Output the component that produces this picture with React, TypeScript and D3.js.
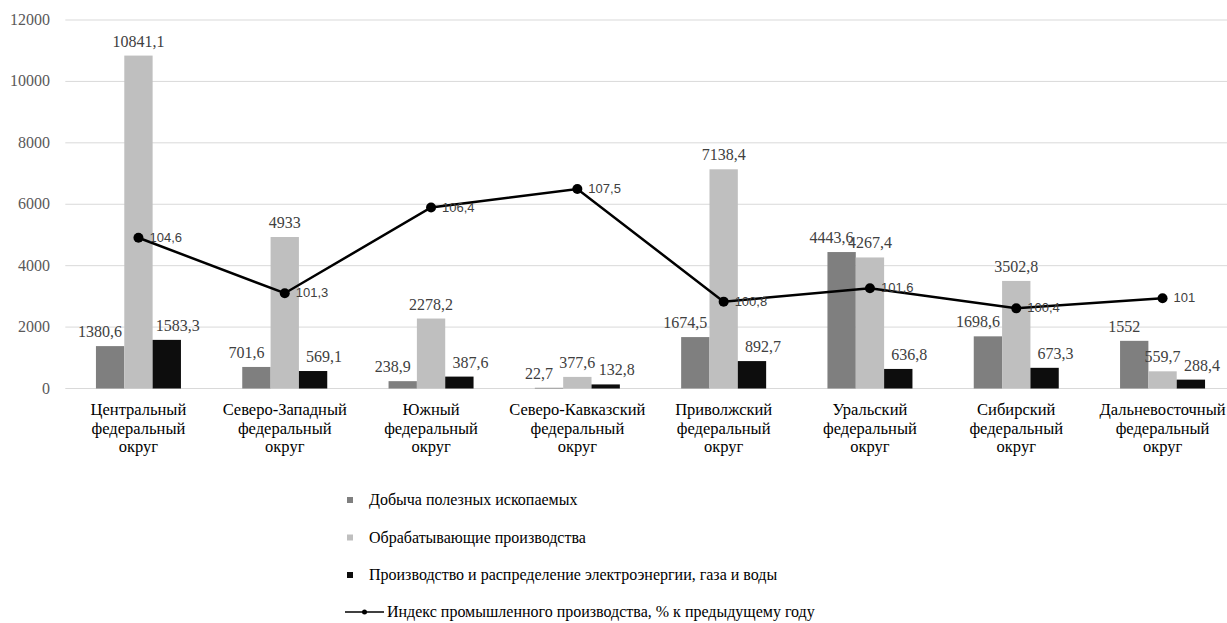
import React, { useEffect, useRef } from "react";
import * as d3 from "d3";

const categories: string[][] = [
  ["Центральный", "федеральный", "округ"],
  ["Северо-Западный", "федеральный", "округ"],
  ["Южный", "федеральный", "округ"],
  ["Северо-Кавказский", "федеральный", "округ"],
  ["Приволжский", "федеральный", "округ"],
  ["Уральский", "федеральный", "округ"],
  ["Сибирский", "федеральный", "округ"],
  ["Дальневосточный", "федеральный", "округ"],
];

const mining = [1380.6, 701.6, 238.9, 22.7, 1674.5, 4443.6, 1698.6, 1552];
const manufacturing = [10841.1, 4933, 2278.2, 377.6, 7138.4, 4267.4, 3502.8, 559.7];
const energy = [1583.3, 569.1, 387.6, 132.8, 892.7, 636.8, 673.3, 288.4];
const industrialIndex = [104.6, 101.3, 106.4, 107.5, 100.8, 101.6, 100.4, 101];

const seriesNames = [
  "Добыча полезных ископаемых",
  "Обрабатывающие производства",
  "Производство и распределение электроэнергии, газа и воды",
];
const lineName = "Индекс промышленного производства, % к предыдущему году";

const yTicks = [0, 2000, 4000, 6000, 8000, 10000, 12000];

const W = 1227;
const H = 623;
const plotLeft = 65.3;
const plotRight = 1235.7;
const plotTop = 20;
const plotBottom = 388.5;

const colors = ["#7f7f7f", "#bfbfbf", "#0d0d0d"];
const labelDx = [-10, 0, 11];

const SERIF = "Times New Roman";
const SANS = "Liberation Sans";

const fmt = (v: number) => String(v).replace(".", ",");

export default function App() {
  const ref = useRef<SVGSVGElement>(null);

  useEffect(() => {
    if (!ref.current) return;
    const svg = d3.select(ref.current);
    svg.selectAll("*").remove();

    const keys = categories.map((c) => c.join(" "));
    const x0 = d3
      .scaleBand<string>()
      .domain(keys)
      .range([plotLeft, plotRight])
      .paddingInner(0.419)
      .paddingOuter(0.2095);
    const x1 = d3.scaleBand<number>().domain([0, 1, 2]).range([0, x0.bandwidth()]).padding(0);
    const y = d3.scaleLinear().domain([0, 12000]).range([plotBottom, plotTop]);
    const y2 = d3.scaleLinear().domain([95.63, 117.56]).range([plotBottom, plotTop]);
    const cx = (i: number) => (x0(keys[i]) as number) + x0.bandwidth() / 2;
    const series = [mining, manufacturing, energy];

    svg.append("rect").attr("width", W).attr("height", H).attr("fill", "#fff");

    svg
      .append("g")
      .selectAll("line")
      .data(yTicks)
      .join("line")
      .attr("x1", plotLeft)
      .attr("x2", W)
      .attr("y1", (d) => y(d))
      .attr("y2", (d) => y(d))
      .attr("stroke", "#d9d9d9")
      .attr("stroke-width", 1);

    svg
      .append("g")
      .selectAll("text")
      .data(yTicks)
      .join("text")
      .attr("x", 50)
      .attr("y", (d) => y(d) + 5)
      .attr("text-anchor", "end")
      .attr("font-family", SERIF)
      .attr("font-size", 16)
      .attr("fill", "#595959")
      .text((d) => String(d));

    series.forEach((s, si) => {
      const g = svg.append("g");
      g.selectAll("rect")
        .data(s)
        .join("rect")
        .attr("x", (_, i) => (x0(keys[i]) as number) + (x1(si) as number))
        .attr("y", (d) => y(d))
        .attr("width", x1.bandwidth())
        .attr("height", (d) => plotBottom - y(d))
        .attr("fill", colors[si]);
    });

    series.forEach((s, si) => {
      svg
        .append("g")
        .selectAll("text")
        .data(s)
        .join("text")
        .attr("x", (_, i) => (x0(keys[i]) as number) + (x1(si) as number) + x1.bandwidth() / 2 + labelDx[si])
        .attr("y", (d) => y(d) - 9)
        .attr("text-anchor", "middle")
        .attr("font-family", SERIF)
        .attr("font-size", 16)
        .attr("fill", "#404040")
        .text((d) => fmt(d));
    });

    const line = d3
      .line<number>()
      .x((_, i) => cx(i))
      .y((d) => y2(d));
    svg
      .append("path")
      .datum(industrialIndex)
      .attr("d", line)
      .attr("fill", "none")
      .attr("stroke", "#000")
      .attr("stroke-width", 2.5);
    svg
      .append("g")
      .selectAll("circle")
      .data(industrialIndex)
      .join("circle")
      .attr("cx", (_, i) => cx(i))
      .attr("cy", (d) => y2(d))
      .attr("r", 5)
      .attr("fill", "#000");
    svg
      .append("g")
      .selectAll("text")
      .data(industrialIndex)
      .join("text")
      .attr("x", (_, i) => cx(i) + 11)
      .attr("y", (d) => y2(d) + 4)
      .attr("font-family", SANS)
      .attr("font-size", 13)
      .attr("fill", "#404040")
      .text((d) => fmt(d));

    const cat = svg
      .append("g")
      .selectAll("text")
      .data(categories)
      .join("text")
      .attr("text-anchor", "middle")
      .attr("font-family", SERIF)
      .attr("font-size", 16.5)
      .attr("fill", "#000");
    cat
      .selectAll("tspan")
      .data((d, i) => d.map((ln) => ({ ln, i })))
      .join("tspan")
      .attr("x", (d) => cx(d.i))
      .attr("y", (_, j) => 415 + j * 18.5)
      .text((d) => d.ln);

    const legendY = [500, 537.5, 575, 612];
    seriesNames.forEach((n, si) => {
      svg
        .append("rect")
        .attr("x", 347)
        .attr("y", legendY[si] - 3)
        .attr("width", 6)
        .attr("height", 6)
        .attr("fill", colors[si]);
      svg
        .append("text")
        .attr("x", 369)
        .attr("y", legendY[si] + 5)
        .attr("font-family", SERIF)
        .attr("font-size", 16)
        .attr("fill", "#000")
        .text(n);
    });
    svg
      .append("line")
      .attr("x1", 345)
      .attr("x2", 384)
      .attr("y1", legendY[3])
      .attr("y2", legendY[3])
      .attr("stroke", "#000")
      .attr("stroke-width", 1.5);
    svg.append("circle").attr("cx", 364.5).attr("cy", legendY[3]).attr("r", 2.5).attr("fill", "#000");
    svg
      .append("text")
      .attr("x", 387)
      .attr("y", legendY[3] + 5)
      .attr("font-family", SERIF)
      .attr("font-size", 16)
      .attr("fill", "#000")
      .text(lineName);
  }, []);

  return (
    <svg
      ref={ref}
      width={W}
      height={H}
      style={{ position: "absolute", left: 0, top: 0 }}
    />
  );
}
